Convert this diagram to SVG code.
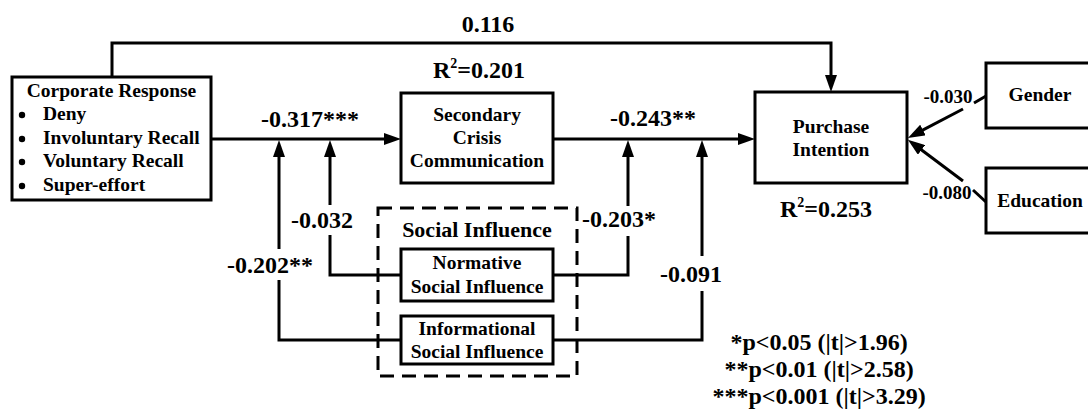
<svg xmlns="http://www.w3.org/2000/svg" width="1088" height="412" viewBox="0 0 1088 412">
<style>
text{font-family:"Liberation Serif","Times New Roman",serif;font-weight:bold;fill:#000}
.box{fill:#fff;stroke:#000;stroke-width:3}
.dash{fill:none;stroke:#000;stroke-width:3;stroke-dasharray:14 8}
.ln{fill:none;stroke:#000;stroke-width:3}
.t{font-size:19.5px;text-anchor:middle}
.c{font-size:24px;text-anchor:middle}
.s{font-size:19px;text-anchor:middle}
.bg{fill:#fff}
</style>
<defs>
<marker id="ah" viewBox="0 0 17 12" refX="9" refY="6" markerWidth="17" markerHeight="12" markerUnits="userSpaceOnUse" orient="auto"><path d="M0,0 L17,6 L0,12 z" fill="#000"/></marker>
</defs>
<g id="connectors">
<path class="ln" d="M112,77 V43 H831 V84" marker-end="url(#ah)"/>
<path class="ln" d="M211,139 H393" marker-end="url(#ah)"/>
<path class="ln" d="M553,139 H747" marker-end="url(#ah)"/>
<path class="ln" d="M401,340 H279 V148" marker-end="url(#ah)"/>
<path class="ln" d="M401,275 H330 V148" marker-end="url(#ah)"/>
<path class="ln" d="M553,275 H628 V148" marker-end="url(#ah)"/>
<path class="ln" d="M553,340 H702 V148" marker-end="url(#ah)"/>
<path class="ln" d="M986,96 L974,103"/>
<path class="ln" d="M963,109 L915,134.2" marker-end="url(#ah)"/>
<path class="ln" d="M986,202 L973,190"/>
<path class="ln" d="M963,181 L914.3,144.5" marker-end="url(#ah)"/>
</g>
<g id="labels">
<text class="c" x="488" y="32">0.116</text>
<text class="c" x="310" y="127">-0.317***</text>
<text class="c" x="653" y="126">-0.243**</text>
<rect class="bg" x="289" y="205" width="66" height="30"/>
<text class="c" x="322" y="228">-0.032</text>
<rect class="bg" x="224" y="249" width="92" height="31"/>
<text class="c" x="270" y="273">-0.202**</text>
<rect class="bg" x="580" y="206" width="79" height="30"/>
<text class="c" x="619" y="227">-0.203*</text>
<rect class="bg" x="659" y="256" width="66" height="35"/>
<text class="c" x="691" y="282">-0.091</text>
<text class="s" x="948" y="103">-0.030</text>
<text class="s" x="947" y="199">-0.080</text>
<text class="c" x="479" y="78">R<tspan font-size="14" dy="-10">2</tspan><tspan dy="10">=0.201</tspan></text>
<text class="c" x="826" y="217">R<tspan font-size="14" dy="-10">2</tspan><tspan dy="10">=0.253</tspan></text>
<text class="c" x="819" y="350">*p&lt;0.05 (|t|&gt;1.96)</text>
<text class="c" x="819" y="377">**p&lt;0.01 (|t|&gt;2.58)</text>
<text class="c" x="819" y="404">***p&lt;0.001 (|t|&gt;3.29)</text>
</g>
<g id="corporate-response">
<rect class="box" x="12" y="77" width="199" height="123"/>
<text class="t" x="111.5" y="97">Corporate Response</text>
<circle cx="22" cy="115" r="3.2"/>
<circle cx="22" cy="139" r="3.2"/>
<circle cx="22" cy="162" r="3.2"/>
<circle cx="22" cy="186" r="3.2"/>
<text font-size="19.5" x="43" y="120">Deny</text>
<text font-size="19.5" x="43" y="144">Involuntary Recall</text>
<text font-size="19.5" x="43" y="167">Voluntary Recall</text>
<text font-size="19.5" x="43" y="191">Super-effort</text>
</g>
<g id="secondary-crisis-communication">
<rect class="box" x="401" y="93" width="152" height="90"/>
<text class="t" x="477" y="121">Secondary</text>
<text class="t" x="477" y="144">Crisis</text>
<text class="t" x="477" y="167">Communication</text>
</g>
<g id="purchase-intention">
<rect class="box" x="755" y="92" width="152" height="91"/>
<text class="t" x="831" y="133">Purchase</text>
<text class="t" x="831" y="156">Intention</text>
</g>
<g id="gender">
<rect class="box" x="986" y="63" width="110" height="65"/>
<text class="t" x="1040" y="101">Gender</text>
</g>
<g id="education">
<rect class="box" x="986" y="168" width="110" height="65"/>
<text class="t" x="1040" y="207">Education</text>
</g>
<g id="social-influence">
<rect class="dash" x="378" y="208" width="199" height="168"/>
<text font-size="22" text-anchor="middle" x="477" y="237">Social Influence</text>
</g>
<g id="normative-social-influence">
<rect class="box" x="401" y="249" width="152" height="52"/>
<text class="t" x="477" y="269">Normative</text>
<text class="t" x="477" y="293">Social Influence</text>
</g>
<g id="informational-social-influence">
<rect class="box" x="401" y="316" width="152" height="48"/>
<text class="t" x="477" y="335">Informational</text>
<text class="t" x="477" y="358">Social Influence</text>
</g>
</svg>
